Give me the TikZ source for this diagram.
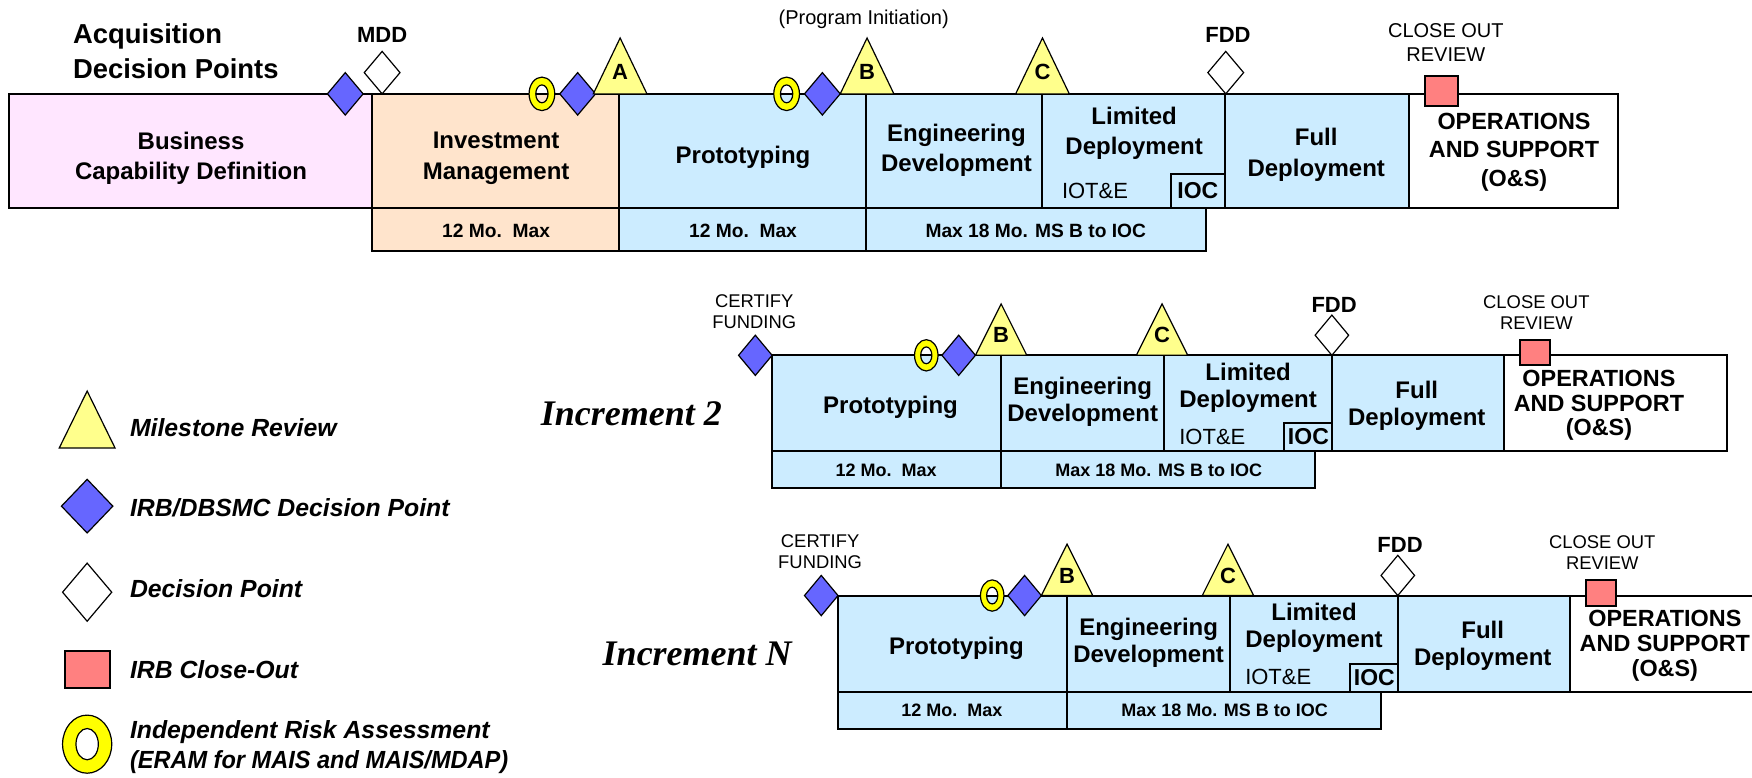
\documentclass[tikz,border=0pt]{standalone}
\usepackage{fontspec}
\setmainfont{Liberation Sans}
\newfontfamily\incfont{Liberation Serif}
\definecolor{cpink}{RGB}{255,230,255}
\definecolor{cpeach}{RGB}{255,228,204}
\definecolor{cblue}{RGB}{204,236,255}
\definecolor{dblue}{RGB}{102,102,255}
\definecolor{rred}{RGB}{255,128,128}
\definecolor{triy}{RGB}{255,255,140}
\definecolor{ringy}{RGB}{255,255,0}
\tikzset{
  box/.style={draw=black, line width=1pt},
  tri/.style={draw=black, fill=triy, line width=0.6pt, line join=miter},
  bdia/.style={draw=black, fill=dblue, line width=0.6pt},
  wdia/.style={draw=black, fill=white, line width=0.6pt},
  rsq/.style={draw=black, fill=rred, line width=1pt},
  ringst/.style={draw=black, fill=ringy, even odd rule, line width=0.6pt},
  ptxt/.style={font={\fontsize{12}{15.2}\selectfont\bfseries}, align=center, inner sep=0pt},
  ptxtb/.style={font={\fontsize{12}{13.5}\selectfont\bfseries}, align=center, inner sep=0pt},
  ostxt/.style={font={\fontsize{11.7}{14.2}\selectfont\bfseries}, align=center, inner sep=0pt},
  ostxtb/.style={font={\fontsize{11.7}{12.3}\selectfont\bfseries}, align=center, inner sep=0pt},
  lowtxt/.style={font={\fontsize{9.6}{11}\selectfont\bfseries}, inner sep=0pt},
  lowtxtb/.style={font={\fontsize{9}{10}\selectfont\bfseries}, inner sep=0pt},
  iotxt/.style={font={\fontsize{11}{12}\selectfont}, inner sep=0pt},
  ioctxt/.style={font={\fontsize{11.5}{12}\selectfont\bfseries}, inner sep=0pt},
  dptxt/.style={font={\fontsize{11}{12}\selectfont\bfseries}, inner sep=0pt},
  smalltxt/.style={font={\fontsize{10}{12.3}\selectfont}, align=center, inner sep=0pt},
  smalltxtb/.style={font={\fontsize{9.2}{10.5}\selectfont}, align=center, inner sep=0pt},
  lettr/.style={font={\fontsize{11}{12}\selectfont\bfseries}, inner sep=0pt},
  legtxt/.style={font={\fontsize{12.4}{15}\selectfont\bfseries\itshape}, align=left, anchor=west, inner sep=0pt},
  inctxt/.style={font={\fontsize{18}{20}\selectfont\incfont\bfseries\itshape}, inner sep=0pt},
  titletxt/.style={font={\fontsize{13.7}{17.3}\selectfont\bfseries}, align=left, anchor=west, inner sep=0pt},
  pics/msr/.style n args={3}{code={
    \draw[tri] (-#2,0) -- (0,-#3) -- (#2,0) -- cycle;
    \node[lettr] (-l) at (0,-0.39*#3) {#1};}},
  pics/dia/.style n args={3}{code={
    \draw[#1] (0,-#3) -- (#2,0) -- (0,#3) -- (-#2,0) -- cycle;}},
  pics/ring/.style n args={4}{code={
    \draw[ringst] (0,0) ellipse [x radius=#1, y radius=#2] (0,0) ellipse [x radius=#3, y radius=#4];}},
}
\newcommand\incrow[2]{%
  \draw[box, fill=cblue] (691,318) rectangle (896,404);
  \draw[box, fill=cblue] (896,318) rectangle (1042,404);
  \draw[box, fill=cblue] (1042,318) rectangle (1192,404);
  \draw[box, fill=cblue] (1192,318) rectangle (1346,404);
  \draw[box, fill=white] (1346,318) rectangle (1546,404);
  \draw[box] (1149,379) rectangle (1192,404);
  \draw[box, fill=cblue] (691,404) rectangle (896,437);
  \draw[box, fill=cblue] (896,404) rectangle (1177,437);
  \pic (#1d1) at (676,318) {dia={bdia}{15}{18}};
  \pic (#1r1) at (829,318) {ring={10.5}{14}{5}{7.5}};
  \pic (#1d2) at (858,318) {dia={bdia}{15}{18}};
  \pic (#1B) at (896,318) {msr={B}{23}{46}};
  \pic (#1C) at (1040,318) {msr={C}{23}{46}};
  \pic (#1d3) at (1192,300) {dia={wdia}{15}{18}};
  \draw[rsq] (1360,304) rectangle (1387,327);
  \node[smalltxtb] (#1cert) at (675,279) {CERTIFY\\FUNDING};
  \node[dptxt] (#1fdd) at (1194,273) {FDD};
  \node[smalltxtb] (#1close) at (1375,279.5) {CLOSE OUT\\REVIEW};
  \node[ptxtb] (#1proto) at (797,365) {Prototyping};
  \node[ptxtb] (#1eng) at (969,360) {Engineering\\Development};
  \node[ptxtb] (#1lim) at (1117,347) {Limited\\Deployment};
  \node[iotxt] (#1iot) at (1085,391) {IOT\&E};
  \node[ioctxt] (#1ioc) at (1171,391) {IOC};
  \node[ptxtb] (#1full) at (1268,363) {Full\\Deployment};
  \node[ostxtb] (#1os) at (1431,363) {OPERATIONS\\AND SUPPORT\\(O\&S)};
  \node[lowtxtb] (#1lo1) at (793,420.5) {12 Mo.\ \ Max};
  \node[lowtxtb] (#1lo2) at (1037,420.5) {Max 18 Mo. MS B to IOC};
  \node[inctxt] (#1inc) at (565,370) {#2};
}
\begin{document}
\begin{tikzpicture}[x=0.5587pt, y=-0.5587pt]
\useasboundingbox (0,0) rectangle (1568,696);
\fill[white] (0,0) rectangle (1568,696);
\clip (0,0) rectangle (1568,696);
% ---------- top row ----------
\draw[box, fill=cpink] (8,84) rectangle (333,186);
\draw[box, fill=cpeach] (333,84) rectangle (554,186);
\draw[box, fill=cblue] (554,84) rectangle (775,186);
\draw[box, fill=cblue] (775,84) rectangle (933,186);
\draw[box, fill=cblue] (933,84) rectangle (1096,186);
\draw[box, fill=cblue] (1096,84) rectangle (1261,186);
\draw[box, fill=white] (1261,84) rectangle (1448,186);
\draw[box] (1048,156) rectangle (1096,186);
\draw[box, fill=cpeach] (333,186) rectangle (554,225);
\draw[box, fill=cblue] (554,186) rectangle (775,225);
\draw[box, fill=cblue] (775,186) rectangle (1079,225);
\pic (t1) at (309,84) {dia={bdia}{16}{19}};
\pic (t2) at (342,65) {dia={wdia}{16}{19}};
\pic (t3) at (485,84) {ring={11.5}{15}{5.5}{8}};
\pic (t4) at (517,84) {dia={bdia}{16}{19}};
\pic (tA) at (555,84) {msr={A}{24}{50}};
\pic (t5) at (704,84) {ring={11.5}{15}{5.5}{8}};
\pic (t6) at (736,84) {dia={bdia}{16}{19}};
\pic (tB) at (776,84) {msr={B}{24}{50}};
\pic (tC) at (933,84) {msr={C}{24}{50}};
\pic (t7) at (1097,65) {dia={wdia}{16}{19}};
\draw[rsq] (1275,68) rectangle (1305,95);
\node[titletxt] (title) at (65,46) {Acquisition\\Decision Points};
\node[dptxt] (mdd) at (342,31) {MDD};
\node[dptxt] (fdd) at (1099,31) {FDD};
\node[smalltxt] (pinit) at (773,17) {(Program Initiation)};
\node[smalltxt] (close) at (1294,38) {CLOSE OUT\\REVIEW};
\node[ptxt] (biz) at (171,141.5) {Business\\Capability Definition};
\node[ptxt] (inv) at (444,141.5) {Investment\\Management};
\node[ptxt] (proto) at (665,140.5) {Prototyping};
\node[ptxt] (eng) at (856,134.5) {Engineering\\Development};
\node[ptxt] (lim) at (1015,119.5) {Limited\\Deployment};
\node[iotxt] (iot) at (980,171) {IOT\&E};
\node[ioctxt] (ioc) at (1072,171) {IOC};
\node[ptxt] (full) at (1178,138.5) {Full\\Deployment};
\node[ostxt] (os) at (1355,136) {OPERATIONS\\AND SUPPORT\\(O\&S)};
\node[lowtxt] (lo1) at (444,207) {12 Mo.\ \ Max};
\node[lowtxt] (lo2) at (665,207) {12 Mo.\ \ Max};
\node[lowtxt] (lo3) at (927,207) {Max 18 Mo. MS B to IOC};
% ---------- increments ----------
\begin{scope}
\incrow{a}{Increment 2}
\end{scope}
\begin{scope}[shift={(59,215)}]
\incrow{n}{Increment N}
\end{scope}
% ---------- legend ----------
\draw[tri] (53,401) -- (78,350) -- (103,401) -- cycle;
\node[legtxt] (lg1) at (116,383) {Milestone Review};
\pic (lgd1) at (78,453) {dia={bdia}{23}{24}};
\node[legtxt] (lg2) at (116,454) {IRB/DBSMC Decision Point};
\pic (lgd2) at (78,530) {dia={wdia}{22}{26}};
\node[legtxt] (lg3) at (116,527) {Decision Point};
\draw[rsq] (58,583) rectangle (98,616);
\node[legtxt] (lg4) at (116,599) {IRB Close-Out};
\pic (lgr) at (78,666) {ring={22}{26}{10}{14}};
\node[legtxt] (lg5) at (116,669) {Independent Risk Assessment\\\scalebox{0.95}[1]{(ERAM for MAIS and MAIS/MDAP)}};
\end{tikzpicture}
\end{document}
